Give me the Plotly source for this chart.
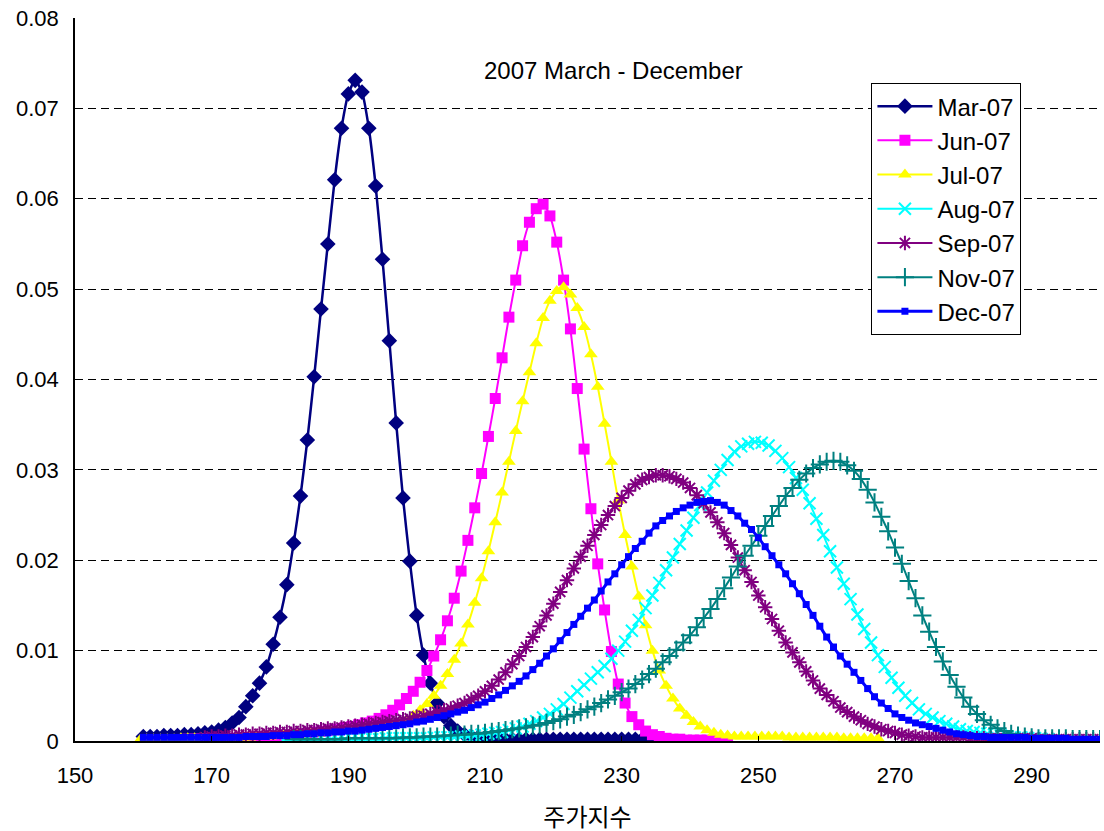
import plotly.graph_objects as go

# Implied price-index densities, one curve per month of 2007.
# Each series is sampled on a 1-point grid that starts at *_START.

MAR_START = 160
MAR_VALUES = [
    0.0005, 0.0005, 0.0005, 0.0006, 0.0006, 0.0006, 0.0007, 0.0007, 0.0008, 0.0009,
    0.0010, 0.0012, 0.0015, 0.0020, 0.0026, 0.0038, 0.0050, 0.0064, 0.0082, 0.0107,
    0.0137, 0.0173, 0.0219, 0.0271, 0.0333, 0.0403, 0.0478, 0.0550, 0.0621, 0.0678,
    0.0716, 0.0731, 0.0718, 0.0678, 0.0614, 0.0533, 0.0443, 0.0352, 0.0269, 0.0199,
    0.0139, 0.0095, 0.0064, 0.0042, 0.0027, 0.0017, 0.0011, 0.0007, 0.0005, 0.0004,
    0.0003, 0.0003, 0.0003, 0.0002, 0.0002, 0.0002, 0.0002, 0.0002, 0.0002, 0.0002,
    0.0002, 0.0002, 0.0002, 0.0002, 0.0002, 0.0002, 0.0002, 0.0002, 0.0002, 0.0002,
    0.0002, 0.0002, 0.0002, 0.0002, 0.0002, 0.0002,
]

JUN_START = 160.5
JUN_VALUES = [
    0.0001, 0.0001, 0.0001, 0.0001, 0.0001, 0.0001, 0.0002, 0.0002, 0.0002, 0.0002,
    0.0002, 0.0002, 0.0002, 0.0003, 0.0003, 0.0003, 0.0004, 0.0004, 0.0005, 0.0005,
    0.0006, 0.0006, 0.0007, 0.0008, 0.0009, 0.0010, 0.0011, 0.0012, 0.0013, 0.0015,
    0.0016, 0.0018, 0.0020, 0.0022, 0.0025, 0.0029, 0.0034, 0.0040, 0.0047, 0.0055,
    0.0065, 0.0078, 0.0094, 0.0112, 0.0133, 0.0158, 0.0188, 0.0222, 0.0258, 0.0296,
    0.0337, 0.0379, 0.0424, 0.0469, 0.0510, 0.0548, 0.0574, 0.0589, 0.0594, 0.0581,
    0.0552, 0.0510, 0.0456, 0.0390, 0.0323, 0.0257, 0.0196, 0.0145, 0.0099, 0.0063,
    0.0042, 0.0027, 0.0018, 0.0011, 0.0007, 0.0005, 0.0003, 0.0002, 0.0002, 0.0001,
    0.0001, 0.0001, 0.0001, 0.0001, 0.0001, 0.0001,
]

JUL_START = 159.5
JUL_VALUES = [
    0.0001, 0.0002, 0.0002, 0.0002, 0.0002, 0.0002, 0.0003, 0.0003, 0.0003, 0.0003,
    0.0003, 0.0003, 0.0003, 0.0004, 0.0004, 0.0004, 0.0004, 0.0005, 0.0005, 0.0005,
    0.0006, 0.0006, 0.0006, 0.0007, 0.0007, 0.0008, 0.0008, 0.0009, 0.0010, 0.0010,
    0.0011, 0.0012, 0.0013, 0.0014, 0.0015, 0.0016, 0.0017, 0.0018, 0.0020, 0.0023,
    0.0028, 0.0034, 0.0041, 0.0050, 0.0061, 0.0074, 0.0090, 0.0108, 0.0129, 0.0153,
    0.0180, 0.0210, 0.0242, 0.0275, 0.0309, 0.0343, 0.0376, 0.0408, 0.0440, 0.0468,
    0.0487, 0.0498, 0.0502, 0.0494, 0.0479, 0.0458, 0.0428, 0.0392, 0.0351, 0.0309,
    0.0266, 0.0228, 0.0193, 0.0160, 0.0128, 0.0100, 0.0078, 0.0061, 0.0047, 0.0036,
    0.0028, 0.0021, 0.0016, 0.0012, 0.0009, 0.0007, 0.0006, 0.0005, 0.0005, 0.0005,
    0.0005, 0.0005, 0.0005, 0.0005, 0.0005, 0.0004, 0.0004, 0.0004, 0.0004, 0.0004,
    0.0004, 0.0004, 0.0004, 0.0003, 0.0003, 0.0003, 0.0003, 0.0003, 0.0003,
]

AUG_START = 180.5
AUG_VALUES = [
    0.0001, 0.0001, 0.0001, 0.0001, 0.0001, 0.0001, 0.0001, 0.0002, 0.0002, 0.0002,
    0.0002, 0.0002, 0.0002, 0.0002, 0.0002, 0.0003, 0.0003, 0.0003, 0.0003, 0.0003,
    0.0003, 0.0003, 0.0004, 0.0004, 0.0004, 0.0004, 0.0005, 0.0005, 0.0006, 0.0007,
    0.0008, 0.0009, 0.0010, 0.0012, 0.0014, 0.0016, 0.0019, 0.0022, 0.0026, 0.0030,
    0.0035, 0.0041, 0.0048, 0.0055, 0.0062, 0.0069, 0.0076, 0.0083, 0.0091, 0.0100,
    0.0110, 0.0122, 0.0134, 0.0147, 0.0161, 0.0175, 0.0189, 0.0203, 0.0218, 0.0233,
    0.0247, 0.0261, 0.0275, 0.0288, 0.0300, 0.0311, 0.0320, 0.0326, 0.0329, 0.0331,
    0.0330, 0.0327, 0.0321, 0.0313, 0.0303, 0.0291, 0.0278, 0.0263, 0.0246, 0.0228,
    0.0210, 0.0192, 0.0174, 0.0157, 0.0140, 0.0124, 0.0109, 0.0095, 0.0082, 0.0070,
    0.0059, 0.0050, 0.0042, 0.0035, 0.0030, 0.0026, 0.0022, 0.0019, 0.0016, 0.0013,
    0.0011, 0.0010, 0.0009, 0.0008, 0.0007, 0.0006, 0.0005, 0.0004, 0.0004, 0.0003,
    0.0003, 0.0002, 0.0002,
]

SEP_START = 169
SEP_VALUES = [
    0.0004, 0.0005, 0.0005, 0.0006, 0.0006, 0.0007, 0.0007, 0.0008, 0.0008, 0.0009,
    0.0009, 0.0010, 0.0010, 0.0011, 0.0011, 0.0012, 0.0012, 0.0013, 0.0014, 0.0014,
    0.0015, 0.0016, 0.0017, 0.0018, 0.0019, 0.0020, 0.0021, 0.0022, 0.0023, 0.0024,
    0.0025, 0.0027, 0.0028, 0.0030, 0.0032, 0.0034, 0.0036, 0.0039, 0.0042, 0.0046,
    0.0050, 0.0055, 0.0061, 0.0068, 0.0076, 0.0085, 0.0094, 0.0104, 0.0115, 0.0127,
    0.0139, 0.0152, 0.0165, 0.0178, 0.0191, 0.0204, 0.0216, 0.0228, 0.0239, 0.0250,
    0.0260, 0.0269, 0.0277, 0.0284, 0.0289, 0.0292, 0.0294, 0.0294, 0.0293, 0.0290,
    0.0286, 0.0280, 0.0272, 0.0263, 0.0253, 0.0242, 0.0230, 0.0217, 0.0203, 0.0189,
    0.0176, 0.0161, 0.0148, 0.0135, 0.0122, 0.0109, 0.0098, 0.0087, 0.0077, 0.0067,
    0.0058, 0.0051, 0.0044, 0.0037, 0.0032, 0.0027, 0.0023, 0.0019, 0.0016, 0.0013,
    0.0011, 0.0009, 0.0007, 0.0006, 0.0005, 0.0004, 0.0004, 0.0004, 0.0004, 0.0004,
    0.0004, 0.0004, 0.0003, 0.0003, 0.0003, 0.0003, 0.0003, 0.0003, 0.0003, 0.0003,
    0.0003, 0.0003, 0.0002, 0.0002, 0.0002, 0.0002, 0.0002, 0.0002, 0.0002, 0.0002,
    0.0002, 0.0002,
]

NOV_START = 182
NOV_VALUES = [
    0.0002, 0.0002, 0.0002, 0.0002, 0.0002, 0.0002, 0.0002, 0.0002, 0.0003, 0.0003,
    0.0003, 0.0003, 0.0003, 0.0003, 0.0003, 0.0003, 0.0004, 0.0004, 0.0004, 0.0005,
    0.0005, 0.0005, 0.0006, 0.0006, 0.0007, 0.0007, 0.0008, 0.0008, 0.0009, 0.0010,
    0.0011, 0.0012, 0.0013, 0.0014, 0.0015, 0.0017, 0.0018, 0.0020, 0.0022, 0.0024,
    0.0027, 0.0029, 0.0032, 0.0035, 0.0038, 0.0042, 0.0046, 0.0050, 0.0054, 0.0058,
    0.0063, 0.0068, 0.0074, 0.0080, 0.0087, 0.0094, 0.0101, 0.0109, 0.0117, 0.0126,
    0.0136, 0.0146, 0.0157, 0.0169, 0.0181, 0.0193, 0.0205, 0.0216, 0.0227, 0.0238,
    0.0249, 0.0260, 0.0271, 0.0280, 0.0289, 0.0296, 0.0302, 0.0306, 0.0309, 0.0310,
    0.0309, 0.0305, 0.0299, 0.0290, 0.0278, 0.0264, 0.0248, 0.0232, 0.0214, 0.0196,
    0.0177, 0.0158, 0.0139, 0.0121, 0.0104, 0.0088, 0.0073, 0.0060, 0.0048, 0.0038,
    0.0030, 0.0023, 0.0018, 0.0014, 0.0011, 0.0008, 0.0006, 0.0005, 0.0004, 0.0003,
    0.0003, 0.0003, 0.0003, 0.0003, 0.0002, 0.0002, 0.0002, 0.0002, 0.0002,
]

DEC_START = 160
DEC_VALUES = [
    0.0004, 0.0004, 0.0004, 0.0004, 0.0004, 0.0004, 0.0004, 0.0004, 0.0004, 0.0004,
    0.0004, 0.0004, 0.0004, 0.0004, 0.0004, 0.0005, 0.0005, 0.0005, 0.0005, 0.0006,
    0.0006, 0.0006, 0.0007, 0.0007, 0.0008, 0.0008, 0.0009, 0.0009, 0.0010, 0.0010,
    0.0011, 0.0011, 0.0012, 0.0013, 0.0014, 0.0015, 0.0016, 0.0017, 0.0018, 0.0019,
    0.0021, 0.0022, 0.0024, 0.0026, 0.0028, 0.0030, 0.0032, 0.0034, 0.0037, 0.0040,
    0.0043, 0.0047, 0.0051, 0.0056, 0.0061, 0.0066, 0.0072, 0.0079, 0.0086, 0.0094,
    0.0102, 0.0111, 0.0120, 0.0129, 0.0138, 0.0147, 0.0156, 0.0166, 0.0176, 0.0185,
    0.0195, 0.0204, 0.0213, 0.0221, 0.0230, 0.0238, 0.0244, 0.0249, 0.0254, 0.0258,
    0.0261, 0.0264, 0.0265, 0.0266, 0.0264, 0.0261, 0.0255, 0.0249, 0.0241, 0.0234,
    0.0225, 0.0215, 0.0205, 0.0195, 0.0185, 0.0174, 0.0163, 0.0151, 0.0139, 0.0127,
    0.0115, 0.0104, 0.0094, 0.0085, 0.0076, 0.0067, 0.0058, 0.0049, 0.0042, 0.0036,
    0.0030, 0.0026, 0.0023, 0.0020, 0.0018, 0.0016, 0.0014, 0.0012, 0.0010, 0.0008,
    0.0007, 0.0006, 0.0005, 0.0005, 0.0004, 0.0004, 0.0004, 0.0004, 0.0004, 0.0004,
    0.0003, 0.0003, 0.0003, 0.0003, 0.0003, 0.0003, 0.0002, 0.0002, 0.0002, 0.0002,
    0.0002,
]

X_TICKS = [150, 170, 190, 210, 230, 250, 270, 290]
Y_TICKS = [0, 0.01, 0.02, 0.03, 0.04, 0.05, 0.06, 0.07, 0.08]
Y_TICK_TEXT = ["0", "0.01", "0.02", "0.03", "0.04", "0.05", "0.06", "0.07", "0.08"]

TITLE = "2007 March - December"
X_TITLE = "주가지수"

FONT = "Liberation Sans, Arial, Noto Sans CJK KR, sans-serif"

# name, start, values, colour, marker symbol, marker size, line width, marker outline
SERIES = [
    ("Mar-07", MAR_START, MAR_VALUES, "#000080", "diamond", 12, 2.5, 0),
    ("Jun-07", JUN_START, JUN_VALUES, "#FF00FF", "square", 11, 2, 0),
    ("Jul-07", JUL_START, JUL_VALUES, "#FFFF00", "triangle-up", 12, 2, 0),
    ("Aug-07", AUG_START, AUG_VALUES, "#00FFFF", "x-thin-open", 12, 2, 2),
    ("Sep-07", SEP_START, SEP_VALUES, "#800080", "asterisk-open", 12, 2, 2),
    ("Nov-07", NOV_START, NOV_VALUES, "#008080", "cross-thin-open", 13, 2, 2),
    ("Dec-07", DEC_START, DEC_VALUES, "#0000FF", "square", 7, 3, 0),
]

fig = go.Figure()
for name, start, values, color, symbol, msize, lwidth, mline in SERIES:
    xs = [start + i for i in range(len(values))]
    fig.add_trace(go.Scatter(
        x=xs, y=values, name=name, mode="lines+markers",
        legendgroup=name,
        line=dict(color=color, width=lwidth, shape="spline", smoothing=0.6),
        marker=dict(symbol=symbol, size=msize, color=color,
                    line=dict(color=color, width=mline)),
    ))

fig.add_annotation(
    text=TITLE, xref="paper", yref="paper", x=0.525, y=0.928,
    yanchor="middle", showarrow=False,
    font=dict(family=FONT, size=24, color="black"),
)

fig.update_layout(
    width=1104, height=831,
    margin=dict(l=75, r=4, t=18, b=88),
    paper_bgcolor="white", plot_bgcolor="white",
    font=dict(family=FONT, size=22, color="black"),
    showlegend=True,
    legend=dict(
        x=0.777, y=0.91, xanchor="left", yanchor="top",
        bgcolor="white", bordercolor="black", borderwidth=1,
        font=dict(family=FONT, size=24, color="black"),
        tracegroupgap=0, itemwidth=55,
    ),
)

fig.update_xaxes(
    range=[150, 300], tickvals=X_TICKS, ticktext=[str(v) for v in X_TICKS],
    showgrid=False, zeroline=False, showline=True, linecolor="black", linewidth=1.5,
    ticks="inside", ticklen=5, tickcolor="black",
    tickfont=dict(family=FONT, size=22, color="black"),
    ticklabelstandoff=14,
    title=dict(text=X_TITLE, font=dict(family=FONT, size=24, color="black"), standoff=22),
)

fig.update_yaxes(
    range=[0, 0.08], tickvals=Y_TICKS, ticktext=Y_TICK_TEXT,
    showgrid=True, gridcolor="black", gridwidth=1, griddash="8px,5px",
    zeroline=False, showline=True, linecolor="black", linewidth=1.5,
    ticks="", tickfont=dict(family=FONT, size=22, color="black"),
    ticklabelstandoff=10,
)

fig.write_html("out.html")
